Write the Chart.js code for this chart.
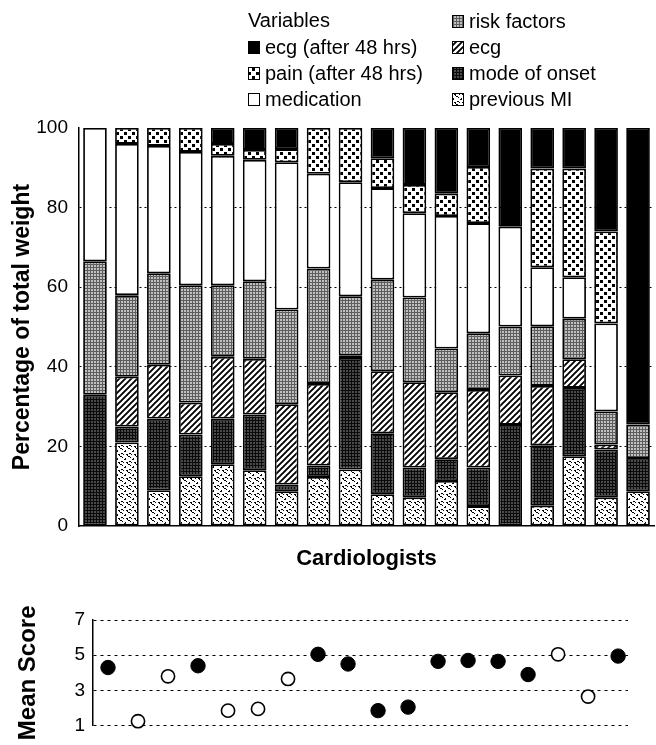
<!DOCTYPE html>
<html><head><meta charset="utf-8">
<script src="https://cdn.jsdelivr.net/npm/chart.js@4.4.1/dist/chart.umd.min.js"></script>
<style>
html,body{margin:0;padding:0;background:#fff;width:656px;height:745px;overflow:hidden}
#wrapA{position:absolute;left:0;top:0;width:656px;height:572px}
#wrapB{position:absolute;left:0;top:570px;width:656px;height:175px}
canvas{display:block}
</style></head><body>
<div id="wrapA"><canvas id="bars" width="656" height="572"></canvas></div>
<div id="wrapB"><canvas id="scores" width="656" height="175"></canvas></div>
<script>
// ---------- data ----------
const cardiologists = ['1','2','3','4','5','6','7','8','9','10','11','12','13','14','15','16','17','18'];
const previousMI   = [0, 21, 9, 12.5, 15.5, 14, 8.7, 12.3, 14.2, 8, 7.2, 11.3, 5, 0, 5.1, 17.5, 7.2, 8.7];
const modeOfOnset  = [33, 4, 18, 10.5, 11.5, 14, 1.7, 2.9, 28, 15.3, 7.5, 5.5, 9.7, 25.4, 15.2, 17.2, 12, 8.4];
const ecg          = [0, 12.5, 13.5, 8, 15.5, 14, 20.2, 20.5, 0.7, 15.6, 21.4, 16.8, 19.5, 12.4, 14.9, 7.2, 1.3, 0];
const riskFactors  = [33.5, 20.5, 23, 29.5, 18, 19.5, 23.8, 29, 14.8, 23, 21.3, 11, 14.2, 12.3, 15, 10.2, 8.3, 8.4];
const medication   = [33.5, 38, 32, 33.5, 32.5, 30.5, 37, 23.8, 28.7, 23, 21.2, 33.3, 27.7, 25.1, 14.8, 10.4, 22.1, 0];
const pain48       = [0, 4, 4.5, 6, 3, 2.5, 3.3, 11.5, 13.6, 7.5, 7.1, 5.6, 14.1, 0, 24.8, 27.3, 23.1, 0];
const ecg48        = [0, 0, 0, 0, 4, 5.5, 5.3, 0, 0, 7.6, 14.3, 16.5, 9.8, 24.8, 10.2, 10.2, 26, 74.5];
const weightTicks  = [0, 20, 40, 60, 80, 100];

const meanScore    = [4.3, 1.25, 3.8, 4.4, 1.85, 1.95, 3.65, 5.05, 4.5, 1.85, 2.05, 4.65, 4.7, 4.65, 3.9, 5.05, 2.65, 4.95];
const filledMarker = [1, 0, 0, 1, 0, 0, 0, 1, 1, 1, 1, 1, 1, 1, 1, 0, 0, 1];
const scoreTicks   = [1, 3, 5, 7];

const legendTitle = 'Variables';
const seriesNames = {
  previousMI: 'previous MI', modeOfOnset: 'mode of onset', ecg: 'ecg', riskFactors: 'risk factors',
  medication: 'medication', pain48: 'pain (after 48 hrs)', ecg48: 'ecg (after 48 hrs)'
};

// ---------- styles ----------
const FONT = "'Liberation Sans', Arial, Helvetica, sans-serif";
const tmpCtx = document.createElement('canvas').getContext('2d');
function makePattern(size, draw){
  const c = document.createElement('canvas'); c.width = size; c.height = size;
  const g = c.getContext('2d'); draw(g, size);
  return tmpCtx.createPattern(c, 'repeat');
}
const patterns = {
  previousMI: makePattern(8, (g,s)=>{
    g.fillStyle='#fff'; g.fillRect(0,0,s,s); g.fillStyle='#000';
    [[0,0,2,1],[2,1,1,1],[5,2,1,2],[4,3,1,1],[1,5,2,1],[3,6,1,1],[6,6,2,1],[7,7,1,1]].forEach(r=>g.fillRect(...r));
  }),
  modeOfOnset: makePattern(3, (g,s)=>{
    g.fillStyle='#4a4a4a'; g.fillRect(0,0,s,s); g.fillStyle='#0a0a0a'; g.fillRect(0,0,s,1); g.fillRect(0,0,1,s);
  }),
  ecg: makePattern(6, (g,s)=>{
    g.fillStyle='#fff'; g.fillRect(0,0,s,s); g.strokeStyle='#000'; g.lineWidth=1.9;
    g.beginPath(); g.moveTo(-1,s+1); g.lineTo(s+1,-1); g.moveTo(-1,1); g.lineTo(1,-1); g.moveTo(s-1,s+1); g.lineTo(s+1,s-1); g.stroke();
  }),
  riskFactors: makePattern(3, (g,s)=>{
    g.fillStyle='#c0c0c0'; g.fillRect(0,0,s,s); g.fillStyle='#5e5e5e'; g.fillRect(0,0,s,1); g.fillRect(0,0,1,s);
  }),
  medication: '#ffffff',
  pain48: makePattern(8, (g,s)=>{
    g.fillStyle='#fff'; g.fillRect(0,0,s,s); g.fillStyle='#000'; g.fillRect(0,0,3,3); g.fillRect(4,4,3,3);
  }),
  ecg48: '#000000'
};

const seriesData = { previousMI, modeOfOnset, ecg, riskFactors, medication, pain48, ecg48 };
const stackOrder = ['previousMI','modeOfOnset','ecg','riskFactors','medication','pain48','ecg48'];
const datasets = stackOrder.map(k => ({
  key: k, label: seriesNames[k], data: seriesData[k], backgroundColor: patterns[k],
  borderColor: '#000', borderWidth: 1.8, borderSkipped: false,
  barPercentage: 0.74, categoryPercentage: 1.0
}));

// legend layout: [key, column, row]
const legendLayout = [['ecg48',0,1],['pain48',0,2],['medication',0,3],['riskFactors',1,0],['ecg',1,1],['modeOfOnset',1,2],['previousMI',1,3]];
const legendColX = [248, 452];
const legendRowY = [21, 47, 73, 99];

const varLegend = {
  id: 'varLegend',
  afterDraw(chart){
    const ctx = chart.ctx;
    ctx.save();
    ctx.font = `20px ${FONT}`; ctx.fillStyle = '#000'; ctx.textBaseline = 'middle'; ctx.textAlign = 'left';
    ctx.fillText(legendTitle, legendColX[0], legendRowY[0]);
    legendLayout.forEach(([k,col,row]) => {
      const ds = chart.data.datasets.find(d => d.key === k);
      const x = legendColX[col], y = legendRowY[row];
      ctx.fillStyle = ds.backgroundColor; ctx.fillRect(x, y-6, 12, 13);
      ctx.strokeStyle = '#000'; ctx.lineWidth = 1; ctx.strokeRect(x+0.5, y-5.5, 11, 12);
      ctx.fillStyle = '#000'; ctx.fillText(ds.label, x + 17, y + 1);
    });
    ctx.restore();
  }
};

new Chart(document.getElementById('bars'), {
  type: 'bar',
  data: { labels: cardiologists, datasets },
  options: {
    responsive: false, animation: false,
    layout: { padding: { left: 9, top: 128, right: 2, bottom: 0 } },
    plugins: { legend: { display: false }, tooltip: { enabled: false } },
    scales: {
      x: {
        stacked: true,
        grid: { display: false, drawTicks: false },
        border: { display: true, color: '#000', width: 1.5 },
        ticks: { display: false },
        title: { display: true, text: 'Cardiologists', color: '#000', padding: 0, font: { family: FONT, size: 22, weight: 'bold' } },
        afterFit(s){ s.height = 46; }
      },
      y: {
        stacked: true, min: 0, max: 100,
        afterBuildTicks(s){ s.ticks = weightTicks.map(v => ({ value: v })); },
        ticks: { color: '#000', padding: 11, font: { family: FONT, size: 19 } },
        grid: { drawTicks: false, lineWidth: 1, color: c => (c.tick && (c.tick.value === 0 || c.tick.value === 100)) ? 'rgba(0,0,0,0)' : '#000' },
        border: { display: true, color: '#000', width: 1.5, dash: [2, 3] },
        title: { display: true, text: 'Percentage of total weight', color: '#000', padding: 0, font: { family: FONT, size: 23, weight: 'bold' } },
        afterFit(s){ s.width = 70; }
      }
    }
  },
  plugins: [varLegend]
});

const filledPts = [], openPts = [];
meanScore.forEach((v, i) => { (filledMarker[i] ? filledPts : openPts).push({ x: i + 1, y: v }); });

new Chart(document.getElementById('scores'), {
  type: 'scatter',
  data: { datasets: [
    { label: 'filled', data: filledPts, pointRadius: 7.2, backgroundColor: '#000', borderColor: '#000', borderWidth: 1, clip: false },
    { label: 'open', data: openPts, pointRadius: 6.6, backgroundColor: '#fff', borderColor: '#000', borderWidth: 1.6, clip: false }
  ]},
  options: {
    responsive: false, animation: false,
    layout: { padding: { left: 14, top: 50, right: 28, bottom: 8 } },
    plugins: { legend: { display: false }, tooltip: { enabled: false } },
    scales: {
      x: { type: 'linear', min: 0.5, max: 18.33, display: false },
      y: {
        min: 1, max: 7,
        afterBuildTicks(s){ s.ticks = scoreTicks.map(v => ({ value: v })); },
        ticks: { color: '#000', padding: 8, font: { family: FONT, size: 19 } },
        grid: { drawTicks: false, lineWidth: 1, color: '#000' },
        border: { display: true, color: '#000', width: 1.5, dash: [3, 4] },
        title: { display: true, text: 'Mean Score', color: '#000', padding: 0, font: { family: FONT, size: 24, weight: 'bold' } },
        afterFit(s){ s.width = 79; }
      }
    }
  }
});
</script>
</body></html>
